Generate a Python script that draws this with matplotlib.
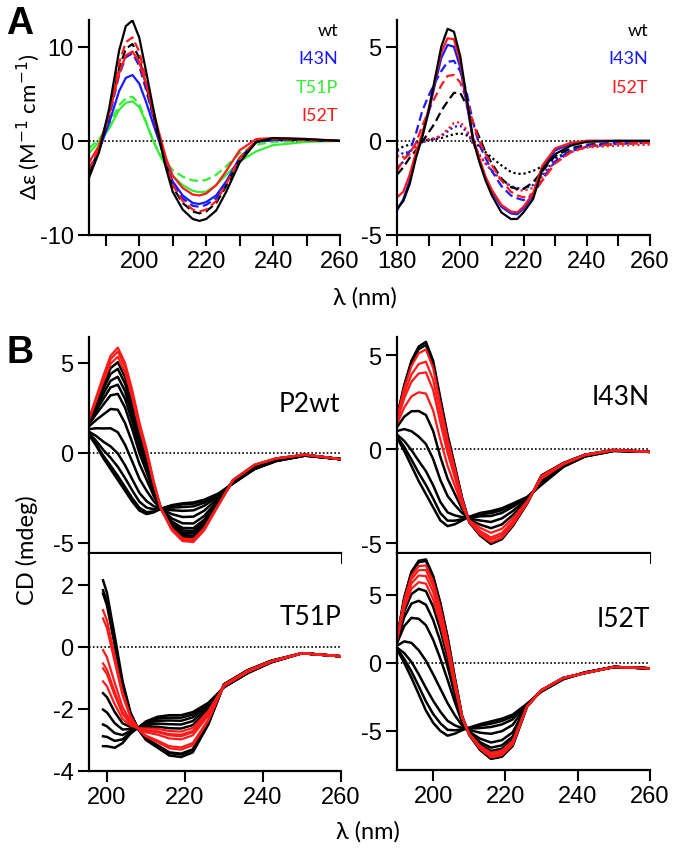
import matplotlib.pyplot as plt
from matplotlib.ticker import MultipleLocator, FixedLocator

plt.rcParams['font.family'] = ['Liberation Sans', 'DejaVu Sans']
plt.rcParams['axes.unicode_minus'] = False
plt.rcParams['lines.solid_joinstyle'] = 'round'
plt.rcParams['lines.dash_joinstyle'] = 'round'

# ---------------- panel A, left (wt, I43N, T51P, I52T) ----------------
wl_a1 = [185, 188, 191, 194, 196, 198, 200, 202, 204, 206, 208, 210, 213, 216, 218, 220, 223, 226, 230, 235, 240, 250, 260]
wt_solid_a1 = [-3.9, -1.2, 3.4, 9.6, 12.2, 12.8, 11.0, 7.5, 3.8, 0.3, -2.9, -5.4, -7.3, -8.3, -8.5, -8.3, -7.4, -5.4, -2.3, -0.1, 0.3, 0.2, 0.0]
wt_dash_a1 = [-3.5, -1.0, 2.8, 7.7, 9.8, 10.3, 8.8, 6.0, 3.0, 0.2, -2.6, -4.9, -6.6, -7.5, -7.7, -7.5, -6.6, -4.8, -2.0, -0.1, 0.2, 0.1, 0.0]
i43n_solid_a1 = [-3.3, -1.0, 1.9, 5.3, 6.7, 7.0, 6.1, 4.2, 2.0, -0.1, -2.4, -4.3, -5.8, -6.6, -6.7, -6.5, -5.8, -4.3, -1.8, -0.1, 0.1, 0.1, 0.0]
i43n_dash_a1 = [-3.4, -1.0, 2.5, 7.0, 8.9, 9.3, 8.0, 5.5, 2.8, 0.2, -2.4, -4.5, -6.1, -6.9, -7.0, -6.8, -6.1, -4.5, -1.9, -0.1, 0.1, 0.1, 0.0]
t51p_solid_a1 = [-1.3, -0.1, 1.3, 3.3, 4.05, 4.2, 3.6, 2.0, 0.2, -1.4, -2.7, -3.7, -4.7, -5.3, -5.45, -5.4, -4.7, -3.6, -2.2, -1.1, -0.45, -0.1, 0.0]
t51p_dash_a1 = [-0.8, 0.2, 1.7, 3.8, 4.5, 4.7, 3.9, 2.1, 0.1, -1.3, -2.3, -3.1, -3.8, -4.2, -4.25, -4.15, -3.6, -2.7, -1.3, -0.4, -0.1, 0.0, 0.0]
i52t_solid_a1 = [-2.3, -0.5, 2.8, 7.2, 9.1, 9.5, 8.4, 6.1, 3.4, 0.8, -1.8, -3.7, -5.0, -5.7, -5.8, -5.6, -4.7, -3.2, -1.0, 0.2, 0.3, 0.2, 0.0]
i52t_dash_a1 = [-3.0, -0.8, 3.0, 8.3, 10.5, 11.0, 9.5, 6.5, 3.2, 0.3, -2.5, -4.7, -6.4, -7.3, -7.5, -7.3, -6.4, -4.6, -1.8, 0.0, 0.2, 0.1, 0.0]

# ---------------- panel A, right (wt, I43N, I52T) ----------------
wl_a2 = [180, 182, 184, 186, 188, 190, 192, 194, 196, 198, 200, 202, 204, 206, 208, 210, 213, 216, 218, 220, 223, 226, 230, 235, 240, 250, 260]
wt_solid_a2 = [-3.6, -3.2, -2.3, -0.9, 0.2, 1.6, 3.3, 5.0, 5.95, 5.8, 4.5, 2.3, 0.1, -1.1, -2.1, -2.9, -3.8, -4.15, -4.15, -3.8, -3.1, -1.5, -0.7, -0.25, -0.05, 0.0, 0.0]
wt_dash_a2 = [-1.8, -1.4, -0.9, -0.5, -0.05, 0.45, 0.95, 1.6, 2.1, 2.55, 2.55, 1.9, 1.0, 0.2, -0.6, -1.2, -2.0, -2.45, -2.55, -2.55, -2.2, -1.6, -0.8, -0.4, -0.2, -0.1, -0.05]
wt_dot_a2 = [-0.5, -0.3, -0.2, -0.1, 0.0, 0.05, 0.1, 0.15, 0.25, 0.35, 0.4, 0.3, 0.05, -0.3, -0.6, -0.9, -1.3, -1.65, -1.75, -1.75, -1.6, -1.35, -0.9, -0.55, -0.3, -0.15, -0.1]
i43n_solid_a2 = [-3.7, -3.1, -2.1, -0.8, 0.3, 1.5, 3.0, 4.4, 5.1, 5.0, 3.9, 2.0, 0.1, -1.0, -2.0, -2.7, -3.5, -3.85, -3.9, -3.6, -2.9, -1.4, -0.5, -0.15, 0.0, 0.0, 0.0]
i43n_dash_a2 = [-1.45, -1.1, -0.55, 0.4, 1.6, 2.4, 3.1, 3.7, 4.2, 4.25, 3.7, 2.6, 1.0, -0.2, -0.9, -1.6, -2.4, -2.9, -3.05, -3.15, -2.85, -2.05, -1.1, -0.5, -0.25, -0.1, -0.05]
i43n_dot_a2 = [-0.5, -0.7, -0.55, -0.3, -0.1, 0.05, 0.1, 0.25, 0.5, 0.75, 0.8, 0.5, -0.15, -0.75, -1.2, -1.6, -2.05, -2.4, -2.5, -2.55, -2.35, -1.8, -1.0, -0.55, -0.3, -0.15, -0.1]
i52t_solid_a2 = [-3.0, -2.7, -1.8, -0.6, 0.4, 1.7, 3.2, 4.7, 5.45, 5.4, 4.2, 2.2, 0.2, -0.9, -1.9, -2.6, -3.4, -3.75, -3.8, -3.5, -2.8, -1.3, -0.4, -0.1, 0.0, 0.0, -0.05]
i52t_dash_a2 = [-1.6, -1.0, -0.7, -0.1, 0.8, 1.6, 2.3, 2.95, 3.45, 3.5, 3.1, 2.2, 1.0, 0.0, -0.7, -1.3, -2.1, -2.7, -2.9, -3.0, -2.8, -2.1, -1.2, -0.6, -0.3, -0.15, -0.1]
i52t_dot_a2 = [-0.8, -0.85, -0.6, -0.3, -0.05, 0.1, 0.15, 0.3, 0.6, 0.95, 1.0, 0.6, -0.1, -0.7, -1.2, -1.6, -2.1, -2.45, -2.6, -2.65, -2.5, -1.9, -1.1, -0.6, -0.35, -0.25, -0.2]

# ---------------- panel B: thermal series (mdeg) ----------------
wl_b = [190, 192, 194, 196, 198, 200, 202, 204, 206, 208, 210, 213, 216, 219, 222, 226, 230, 236, 242, 250, 260]

p2wt_black = [
    [1.8, 2.8, 3.79, 4.71, 5.04, 4.22, 2.82, 1.16, -0.2, -1.79, -3.1, -4.15, -4.67, -4.71, -4.11, -2.83, -1.52, -0.68, -0.32, -0.1, -0.35],
    [1.76, 2.67, 3.56, 4.39, 4.67, 3.86, 2.51, 0.92, -0.38, -1.87, -3.1, -4.08, -4.56, -4.6, -4.03, -2.8, -1.53, -0.69, -0.32, -0.11, -0.35],
    [1.7, 2.51, 3.29, 4.01, 4.23, 3.44, 2.14, 0.62, -0.59, -1.97, -3.1, -3.99, -4.44, -4.47, -3.93, -2.76, -1.54, -0.7, -0.33, -0.11, -0.35],
    [1.65, 2.34, 3.01, 3.64, 3.79, 3.01, 1.76, 0.33, -0.81, -2.08, -3.1, -3.91, -4.31, -4.33, -3.82, -2.72, -1.56, -0.72, -0.34, -0.11, -0.35],
    [1.59, 2.16, 2.69, 3.2, 3.28, 2.52, 1.33, -0.01, -1.06, -2.19, -3.1, -3.81, -4.17, -4.18, -3.71, -2.67, -1.57, -0.74, -0.35, -0.12, -0.35],
    [1.48, 1.83, 2.14, 2.44, 2.4, 1.66, 0.59, -0.6, -1.49, -2.4, -3.1, -3.64, -3.91, -3.92, -3.5, -2.59, -1.59, -0.77, -0.37, -0.12, -0.35],
    [1.32, 1.37, 1.36, 1.37, 1.15, 0.46, -0.47, -1.44, -2.1, -2.69, -3.1, -3.4, -3.56, -3.54, -3.21, -2.48, -1.63, -0.81, -0.4, -0.13, -0.35],
    [1.18, 0.94, 0.62, 0.36, -0.03, -0.68, -1.46, -2.22, -2.68, -2.96, -3.1, -3.18, -3.22, -3.19, -2.94, -2.38, -1.66, -0.85, -0.42, -0.14, -0.35],
    [1.09, 0.67, 0.16, -0.27, -0.77, -1.39, -2.08, -2.71, -3.04, -3.13, -3.1, -3.04, -3.01, -2.97, -2.77, -2.32, -1.68, -0.88, -0.44, -0.15, -0.35],
    [1.03, 0.48, -0.16, -0.71, -1.28, -1.89, -2.51, -3.05, -3.29, -3.25, -3.1, -2.94, -2.86, -2.82, -2.65, -2.27, -1.69, -0.89, -0.45, -0.15, -0.35],
    [1.0, 0.4, -0.3, -0.9, -1.5, -2.1, -2.7, -3.2, -3.4, -3.3, -3.1, -2.9, -2.8, -2.75, -2.6, -2.25, -1.7, -0.9, -0.45, -0.15, -0.35],
]
p2wt_red = [
    [1.9, 3.1, 4.3, 5.4, 5.85, 5.0, 3.5, 1.7, 0.2, -1.6, -3.1, -4.3, -4.9, -4.95, -4.3, -2.9, -1.5, -0.65, -0.3, -0.1, -0.35],
    [1.87, 3.02, 4.16, 5.21, 5.63, 4.79, 3.31, 1.55, 0.09, -1.65, -3.1, -4.26, -4.84, -4.88, -4.25, -2.88, -1.51, -0.66, -0.3, -0.1, -0.35],
    [1.84, 2.91, 3.98, 4.96, 5.34, 4.5, 3.07, 1.36, -0.05, -1.72, -3.1, -4.2, -4.75, -4.8, -4.18, -2.85, -1.51, -0.67, -0.31, -0.1, -0.35],
]

i43n_black = [
    [1.7, 3.4, 4.7, 5.45, 5.7, 4.7, 2.7, 0.75, -0.9, -2.6, -3.9, -4.6, -5.05, -4.8, -4.1, -2.9, -1.4, -0.75, -0.3, -0.05, -0.15],
    [1.68, 3.33, 4.59, 5.31, 5.54, 4.54, 2.57, 0.65, -0.96, -2.62, -3.89, -4.58, -5.02, -4.77, -4.08, -2.89, -1.41, -0.75, -0.3, -0.05, -0.15],
    [1.17, 1.72, 2.01, 2.02, 1.81, 0.96, -0.42, -1.58, -2.39, -3.18, -3.76, -4.02, -4.21, -4.01, -3.52, -2.73, -1.64, -0.85, -0.35, -0.07, -0.15],
    [0.96, 1.06, 0.95, 0.66, 0.27, -0.53, -1.65, -2.5, -2.98, -3.4, -3.7, -3.8, -3.88, -3.69, -3.3, -2.67, -1.73, -0.88, -0.37, -0.08, -0.15],
    [0.77, 0.43, -0.06, -0.63, -1.18, -1.93, -2.82, -3.37, -3.53, -3.62, -3.65, -3.58, -3.56, -3.4, -3.08, -2.6, -1.82, -0.92, -0.38, -0.09, -0.15],
    [0.67, 0.11, -0.56, -1.27, -1.91, -2.63, -3.41, -3.81, -3.81, -3.73, -3.62, -3.47, -3.41, -3.25, -2.97, -2.57, -1.87, -0.94, -0.39, -0.1, -0.15],
    [0.6, -0.1, -0.9, -1.7, -2.4, -3.1, -3.8, -4.1, -4.0, -3.8, -3.6, -3.4, -3.3, -3.15, -2.9, -2.55, -1.9, -0.95, -0.4, -0.1, -0.15],
]
i43n_red = [
    [1.65, 3.23, 4.42, 5.09, 5.3, 4.31, 2.38, 0.51, -1.05, -2.66, -3.89, -4.54, -4.96, -4.72, -4.04, -2.88, -1.42, -0.76, -0.3, -0.05, -0.15],
    [1.56, 2.95, 3.97, 4.52, 4.65, 3.69, 1.86, 0.12, -1.3, -2.76, -3.86, -4.44, -4.82, -4.59, -3.94, -2.85, -1.46, -0.78, -0.31, -0.06, -0.15],
    [1.48, 2.7, 3.58, 4.02, 4.08, 3.14, 1.4, -0.22, -1.52, -2.84, -3.84, -4.36, -4.7, -4.47, -3.86, -2.83, -1.5, -0.79, -0.32, -0.06, -0.15],
    [1.33, 2.21, 2.8, 3.02, 2.95, 2.05, 0.49, -0.9, -1.95, -3.01, -3.8, -4.19, -4.46, -4.24, -3.69, -2.78, -1.57, -0.82, -0.33, -0.07, -0.15],
]

i52t_black = [
    [1.8, 4.8, 6.7, 7.5, 7.6, 6.4, 4.4, 1.9, -1.1, -3.9, -5.3, -6.4, -7.05, -6.9, -6.1, -3.2, -2.0, -1.1, -0.75, -0.3, -0.4],
    [1.79, 4.75, 6.62, 7.4, 7.49, 6.29, 4.31, 1.83, -1.14, -3.91, -5.29, -6.38, -7.02, -6.87, -6.08, -3.2, -2.0, -1.1, -0.75, -0.3, -0.4],
    [1.63, 3.79, 5.06, 5.44, 5.27, 4.13, 2.43, 0.38, -1.96, -4.12, -5.18, -6.0, -6.47, -6.31, -5.62, -3.16, -2.02, -1.12, -0.74, -0.3, -0.4],
    [1.56, 3.36, 4.36, 4.56, 4.27, 3.16, 1.58, -0.28, -2.33, -4.22, -5.14, -5.83, -6.23, -6.06, -5.41, -3.14, -2.03, -1.13, -0.74, -0.3, -0.4],
    [1.45, 2.71, 3.31, 3.24, 2.77, 1.7, 0.31, -1.25, -2.88, -4.36, -5.06, -5.57, -5.85, -5.68, -5.1, -3.11, -2.04, -1.14, -0.73, -0.3, -0.4],
    [1.26, 1.58, 1.47, 0.93, 0.16, -0.84, -1.9, -2.96, -3.85, -4.6, -4.93, -5.13, -5.21, -5.02, -4.56, -3.07, -2.07, -1.17, -0.72, -0.3, -0.4],
    [1.12, 0.72, 0.07, -0.83, -1.84, -2.78, -3.59, -4.26, -4.59, -4.79, -4.83, -4.79, -4.71, -4.52, -4.15, -3.03, -2.09, -1.19, -0.71, -0.3, -0.4],
    [1.05, 0.29, -0.63, -1.71, -2.83, -3.75, -4.44, -4.92, -4.95, -4.89, -4.78, -4.61, -4.47, -4.27, -3.94, -3.01, -2.09, -1.19, -0.7, -0.3, -0.4],
    [1.0, 0.0, -1.1, -2.3, -3.5, -4.4, -5.0, -5.35, -5.2, -4.95, -4.75, -4.5, -4.3, -4.1, -3.8, -3.0, -2.1, -1.2, -0.7, -0.3, -0.4],
]
i52t_red = [
    [1.77, 4.61, 6.39, 7.11, 7.16, 5.97, 4.02, 1.61, -1.26, -3.94, -5.28, -6.32, -6.94, -6.79, -6.01, -3.19, -2.0, -1.1, -0.75, -0.3, -0.4],
    [1.74, 4.46, 6.15, 6.81, 6.82, 5.64, 3.74, 1.39, -1.39, -3.97, -5.26, -6.27, -6.86, -6.7, -5.94, -3.19, -2.01, -1.11, -0.75, -0.3, -0.4],
    [1.71, 4.27, 5.84, 6.42, 6.38, 5.21, 3.37, 1.1, -1.55, -4.02, -5.24, -6.19, -6.75, -6.59, -5.85, -3.18, -2.01, -1.11, -0.74, -0.3, -0.4],
    [1.67, 4.03, 5.45, 5.93, 5.82, 4.67, 2.9, 0.74, -1.76, -4.07, -5.21, -6.1, -6.61, -6.45, -5.73, -3.17, -2.02, -1.12, -0.74, -0.3, -0.4],
]

wl_t51p = [199, 200, 202, 204, 206, 208, 210, 213, 216, 219, 222, 226, 230, 236, 242, 250, 260]
t51p_black = [
    [2.15, 1.75, 0.35, -1.1, -2.1, -2.65, -3.0, -3.25, -3.5, -3.55, -3.4, -2.5, -1.2, -0.75, -0.45, -0.2, -0.3],
    [1.83, 1.45, 0.13, -1.22, -2.14, -2.65, -2.96, -3.19, -3.42, -3.47, -3.32, -2.46, -1.21, -0.76, -0.45, -0.2, -0.3],
    [1.72, 1.35, 0.06, -1.26, -2.16, -2.65, -2.95, -3.17, -3.4, -3.44, -3.3, -2.44, -1.21, -0.76, -0.45, -0.2, -0.3],
    [-1.49, -1.62, -2.1, -2.46, -2.58, -2.62, -2.59, -2.57, -2.62, -2.63, -2.52, -2.02, -1.27, -0.82, -0.48, -0.2, -0.3],
    [-2.02, -2.11, -2.46, -2.66, -2.65, -2.61, -2.53, -2.47, -2.49, -2.5, -2.39, -1.95, -1.28, -0.83, -0.49, -0.2, -0.3],
    [-2.5, -2.56, -2.78, -2.84, -2.71, -2.61, -2.48, -2.38, -2.37, -2.38, -2.27, -1.89, -1.29, -0.84, -0.49, -0.2, -0.3],
    [-2.88, -2.9, -3.03, -2.98, -2.76, -2.6, -2.44, -2.31, -2.28, -2.28, -2.18, -1.84, -1.29, -0.84, -0.5, -0.2, -0.3],
    [-3.2, -3.2, -3.25, -3.1, -2.8, -2.6, -2.4, -2.25, -2.2, -2.2, -2.1, -1.8, -1.3, -0.85, -0.5, -0.2, -0.3],
]
t51p_red = [
    [1.19, 0.86, -0.3, -1.46, -2.23, -2.64, -2.89, -3.07, -3.27, -3.31, -3.17, -2.37, -1.22, -0.77, -0.46, -0.2, -0.3],
    [0.92, 0.61, -0.48, -1.56, -2.26, -2.64, -2.86, -3.02, -3.2, -3.24, -3.1, -2.34, -1.22, -0.77, -0.46, -0.2, -0.3],
    [-0.1, -0.33, -1.16, -1.94, -2.39, -2.63, -2.75, -2.83, -2.95, -2.98, -2.85, -2.21, -1.24, -0.79, -0.47, -0.2, -0.3],
    [-0.53, -0.73, -1.45, -2.1, -2.45, -2.63, -2.7, -2.75, -2.85, -2.88, -2.75, -2.15, -1.25, -0.8, -0.48, -0.2, -0.3],
    [-0.69, -0.87, -1.56, -2.16, -2.47, -2.62, -2.68, -2.72, -2.81, -2.83, -2.71, -2.13, -1.25, -0.8, -0.48, -0.2, -0.3],
    [-1.11, -1.27, -1.85, -2.32, -2.53, -2.62, -2.63, -2.64, -2.71, -2.73, -2.61, -2.07, -1.26, -0.81, -0.48, -0.2, -0.3],
]

BLUE = '#1a1aff'
GREEN = '#33ee33'
RED = '#ff1a1a'
DASH = (0, (4, 2))
DOT = (0, (1, 1.3))
TXT = ['Lato', 'DejaVu Sans']

W, H = 675, 853


def box(x0, y0, x1, y1):
    return [x0 / W, 1 - y1 / H, (x1 - x0) / W, (y1 - y0) / H]


def style(ax):
    for s in ['top', 'right']:
        ax.spines[s].set_visible(False)
    for s in ['left', 'bottom']:
        ax.spines[s].set_linewidth(1.6)
    ax.tick_params(which='both', direction='out', length=8, width=1.5,
                   labelsize=17, pad=3)
    ax.axhline(0, color='k', ls=DOT, lw=1.2, zorder=0)


fig = plt.figure(figsize=(6.75, 8.53), dpi=100)

# ---- A left
ax = fig.add_axes(box(89, 21, 340, 236))
style(ax)
ax.plot(wl_a1, t51p_dash_a1, color=GREEN, ls=DASH, lw=1.6)
ax.plot(wl_a1, t51p_solid_a1, color=GREEN, lw=1.6)
ax.plot(wl_a1, i43n_dash_a1, color=BLUE, ls=DASH, lw=1.6)
ax.plot(wl_a1, i43n_solid_a1, color=BLUE, lw=1.6)
ax.plot(wl_a1, wt_dash_a1, color='k', ls=DASH, lw=1.6)
ax.plot(wl_a1, i52t_dash_a1, color=RED, ls=DASH, lw=1.6)
ax.plot(wl_a1, i52t_solid_a1, color=RED, lw=1.6)
ax.plot(wl_a1, wt_solid_a1, color='k', lw=1.6)
ax.set_xlim(185, 260)
ax.set_ylim(-10, 12.85)
ax.xaxis.set_major_locator(FixedLocator([200, 220, 240, 260]))
ax.xaxis.set_minor_locator(FixedLocator([190, 210, 230, 250]))
ax.set_yticks([-10, 0, 10])
for i, (lab, c) in enumerate([('wt', 'k'), ('I43N', BLUE), ('T51P', GREEN), ('I52T', RED)]):
    fig.text(338 / W, 1 - (31 + 28.3 * i) / H, lab, color=c, fontsize=13,
             ha='right', va='center', family=TXT)

# ---- A right
ax = fig.add_axes(box(397, 21, 650, 236))
style(ax)
ax.plot(wl_a2, wt_dot_a2, color='k', ls=DOT, lw=1.6)
ax.plot(wl_a2, i43n_dot_a2, color=BLUE, ls=DOT, lw=1.6)
ax.plot(wl_a2, i52t_dot_a2, color=RED, ls=DOT, lw=1.6)
ax.plot(wl_a2, wt_dash_a2, color='k', ls=DASH, lw=1.6)
ax.plot(wl_a2, i43n_dash_a2, color=BLUE, ls=DASH, lw=1.6)
ax.plot(wl_a2, i52t_dash_a2, color=RED, ls=DASH, lw=1.6)
ax.plot(wl_a2, i43n_solid_a2, color=BLUE, lw=1.6)
ax.plot(wl_a2, i52t_solid_a2, color=RED, lw=1.6)
ax.plot(wl_a2, wt_solid_a2, color='k', lw=1.6)
ax.set_xlim(180, 260)
ax.set_ylim(-5, 6.42)
ax.xaxis.set_major_locator(MultipleLocator(20))
ax.xaxis.set_minor_locator(MultipleLocator(10))
ax.set_yticks([-5, 0, 5])
for i, (lab, c) in enumerate([('wt', 'k'), ('I43N', BLUE), ('I52T', RED)]):
    fig.text(648 / W, 1 - (31 + 28.3 * i) / H, lab, color=c, fontsize=13,
             ha='right', va='center', family=TXT)

# ---- B panels
panels = [
    (box(89, 338, 341, 554), wl_b, p2wt_black, p2wt_red, (190, 260), (-5.56, 6.44), [-5, 0, 5], 'P2wt', (340, 405), False),
    (box(397, 338, 650, 554), wl_b, i43n_black, i43n_red, (190, 260), (-5.53, 5.96), [-5, 0, 5], 'I43N', (650, 398), False),
    (box(89, 555, 341, 772), wl_t51p, t51p_black, t51p_red, (195.4, 260), (-4, 3), [-4, -2, 0, 2], 'T51P', (341, 618), True),
    (box(397, 555, 650, 771), wl_b, i52t_black, i52t_red, (190, 260), (-7.87, 8.0), [-5, 0, 5], 'I52T', (650, 620), True),
]
for rect, wl, blacks, reds, xl, yl, yt, name, (tx, ty), labels in panels:
    ax = fig.add_axes(rect)
    style(ax)
    for y in blacks:
        ax.plot(wl, y, color='k', lw=1.8)
    for y in reds:
        ax.plot(wl, y, color=RED, lw=1.6)
    ax.set_xlim(*xl)
    ax.set_ylim(*yl)
    ax.set_xticks([200, 220, 240, 260])
    ax.set_yticks(yt)
    if not labels:
        ax.tick_params(axis='x', labelbottom=False)
    fig.text(tx / W, 1 - ty / H, name, fontsize=19, ha='right', va='center',
             family=TXT)

# ---- panel letters and axis labels
fig.text(20 / W, 1 - 24 / H, 'A', fontsize=27, fontweight='bold', ha='center', va='center')
fig.text(20 / W, 1 - 353 / H, 'B', fontsize=27, fontweight='bold', ha='center', va='center')
fig.text(28 / W, 1 - 127 / H, r'Δε (M$^{-1}$ cm$^{-1}$)', rotation=90, fontsize=16,
         ha='center', va='center', family=TXT)
fig.text(27 / W, 1 - 550 / H, 'CD (mdeg)', rotation=90, fontsize=17,
         ha='center', va='center', family=TXT)
fig.text(365 / W, 1 - 298 / H, 'λ (nm)', fontsize=17, ha='center', va='center',
         family=TXT)
fig.text(368 / W, 1 - 832 / H, 'λ (nm)', fontsize=17, ha='center', va='center',
         family=TXT)

fig.savefig('out.png', dpi=100)
